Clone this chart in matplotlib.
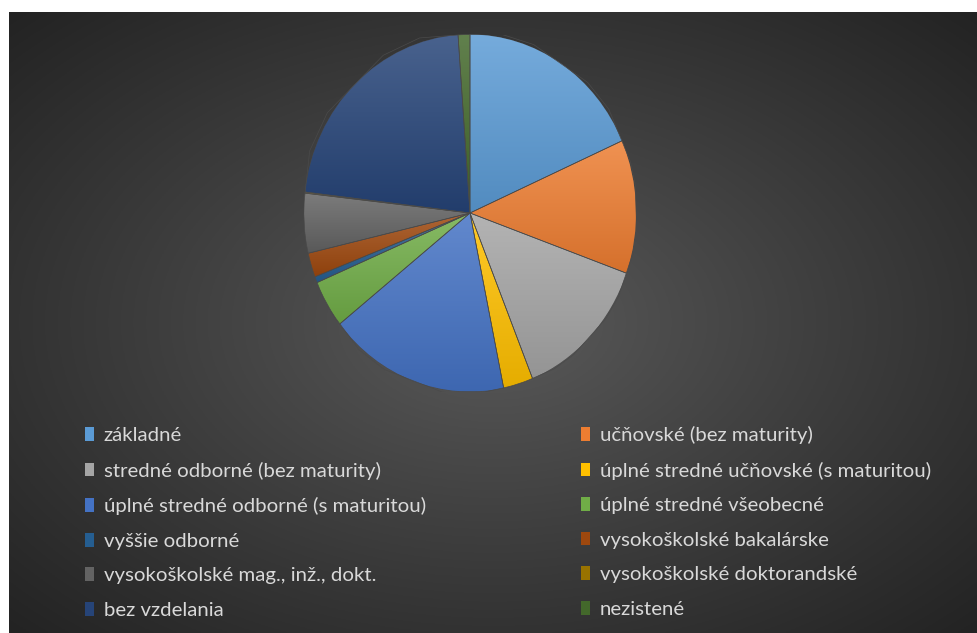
import matplotlib
matplotlib.use("Agg")
import matplotlib.pyplot as plt
import numpy as np
from matplotlib.colors import to_rgb
from matplotlib.patches import Patch

# education level shares (%), clockwise from 12 o'clock
LABELS = [
    "základné",
    "učňovské (bez maturity)",
    "stredné odborné (bez maturity)",
    "úplné stredné učňovské (s maturitou)",
    "úplné stredné odborné (s maturitou)",
    "úplné stredné všeobecné",
    "vyššie odborné",
    "vysokoškolské bakalárske",
    "vysokoškolské mag., inž., dokt.",
    "vysokoškolské doktorandské",
    "bez vzdelania",
    "nezistené",
]
SHARES = [18.4, 12.1, 13.4, 2.9, 17.6, 4.3, 0.55, 2.2, 5.4, 0.1, 22.0, 1.15]
COLORS = ["#5B9BD5", "#ED7D31", "#A5A5A5", "#FFC000", "#4472C4", "#70AD47",
          "#255E91", "#9E480E", "#636363", "#997300", "#264478", "#43682B"]

TEXT_C = "#D9D9D9"
W, H = 978, 633


def mix(c, other, t):
    c = np.array(to_rgb(c))
    return c + (np.array(other) - c) * t


fig = plt.figure(figsize=(W / 100, H / 100), dpi=100, facecolor="white")

# --- dark radial background ------------------------------------------------
bg = fig.add_axes([9 / W, 0, 1 - 9 / W, (H - 12) / H])
bg.set_axis_off()
yy, xx = np.mgrid[-1:1:300j, -1:1:400j]
r = np.clip(np.sqrt(xx ** 2 + yy ** 2) / np.sqrt(2), 0, 1)
c_in, c_out = np.array(to_rgb("#5C5C5C")), np.array(to_rgb("#232323"))
img = c_in + (c_out - c_in) * r[..., None] ** 0.9
bg.imshow(img, extent=[0, 1, 0, 1], aspect="auto", origin="lower")
bg.set_xlim(0, 1)
bg.set_ylim(0, 1)

# --- pie (slightly elliptical, as in the source) --------------------------
cx, cy, rx, ry = 470, 213, 166, 178.5
ax = fig.add_axes([(cx - rx) / W, (H - cy - ry) / H, 2 * rx / W, 2 * ry / H])
ax.set_axis_off()
wedges, _ = ax.pie(SHARES, colors=COLORS, startangle=90, counterclock=False,
                   wedgeprops=dict(edgecolor="#4a4a4a", linewidth=0.5))

# vertical gradient inside every slice: lighter on top, darker at bottom
for w, col in zip(wedges, COLORS):
    v = w.get_path().vertices
    x0, x1 = v[:, 0].min(), v[:, 0].max()
    y0, y1 = v[:, 1].min(), v[:, 1].max()
    top, bot = mix(col, (1, 1, 1), 0.16), mix(col, (0, 0, 0), 0.10)
    t = np.linspace(0, 1, 64)[:, None]
    grad = (bot + (top - bot) * t)[:, None, :]
    im = ax.imshow(grad, extent=[x0, x1, y0, y1], aspect="auto",
                   origin="lower", zorder=w.get_zorder() + 0.1)
    im.set_clip_path(w)
    edge = plt.Polygon(v, closed=True, fill=False, edgecolor="#4a4a4a",
                       linewidth=0.5, zorder=w.get_zorder() + 0.2)
    ax.add_patch(edge)

ax.set_aspect("auto")
ax.set_xlim(-1, 1)
ax.set_ylim(-1, 1)

# --- legend, two columns filled row by row ---------------------------------
fs = 14.7
handles = [Patch(facecolor=c, edgecolor="none") for c in COLORS]
order = list(range(0, 12, 2)) + list(range(1, 12, 2))
leg = fig.legend([handles[i] for i in order], [LABELS[i] for i in order],
                 ncol=2, loc="upper left", bbox_to_anchor=(85 / W, 1 - 426 / H),
                 frameon=False, labelcolor=TEXT_C,
                 handlelength=0.42, handleheight=0.65, handletextpad=0.5,
                 labelspacing=0.86, columnspacing=7.6, borderaxespad=0,
                 borderpad=0, prop={"family": "Lato", "size": fs})

fig.savefig("out.png", dpi=100, facecolor=fig.get_facecolor())
